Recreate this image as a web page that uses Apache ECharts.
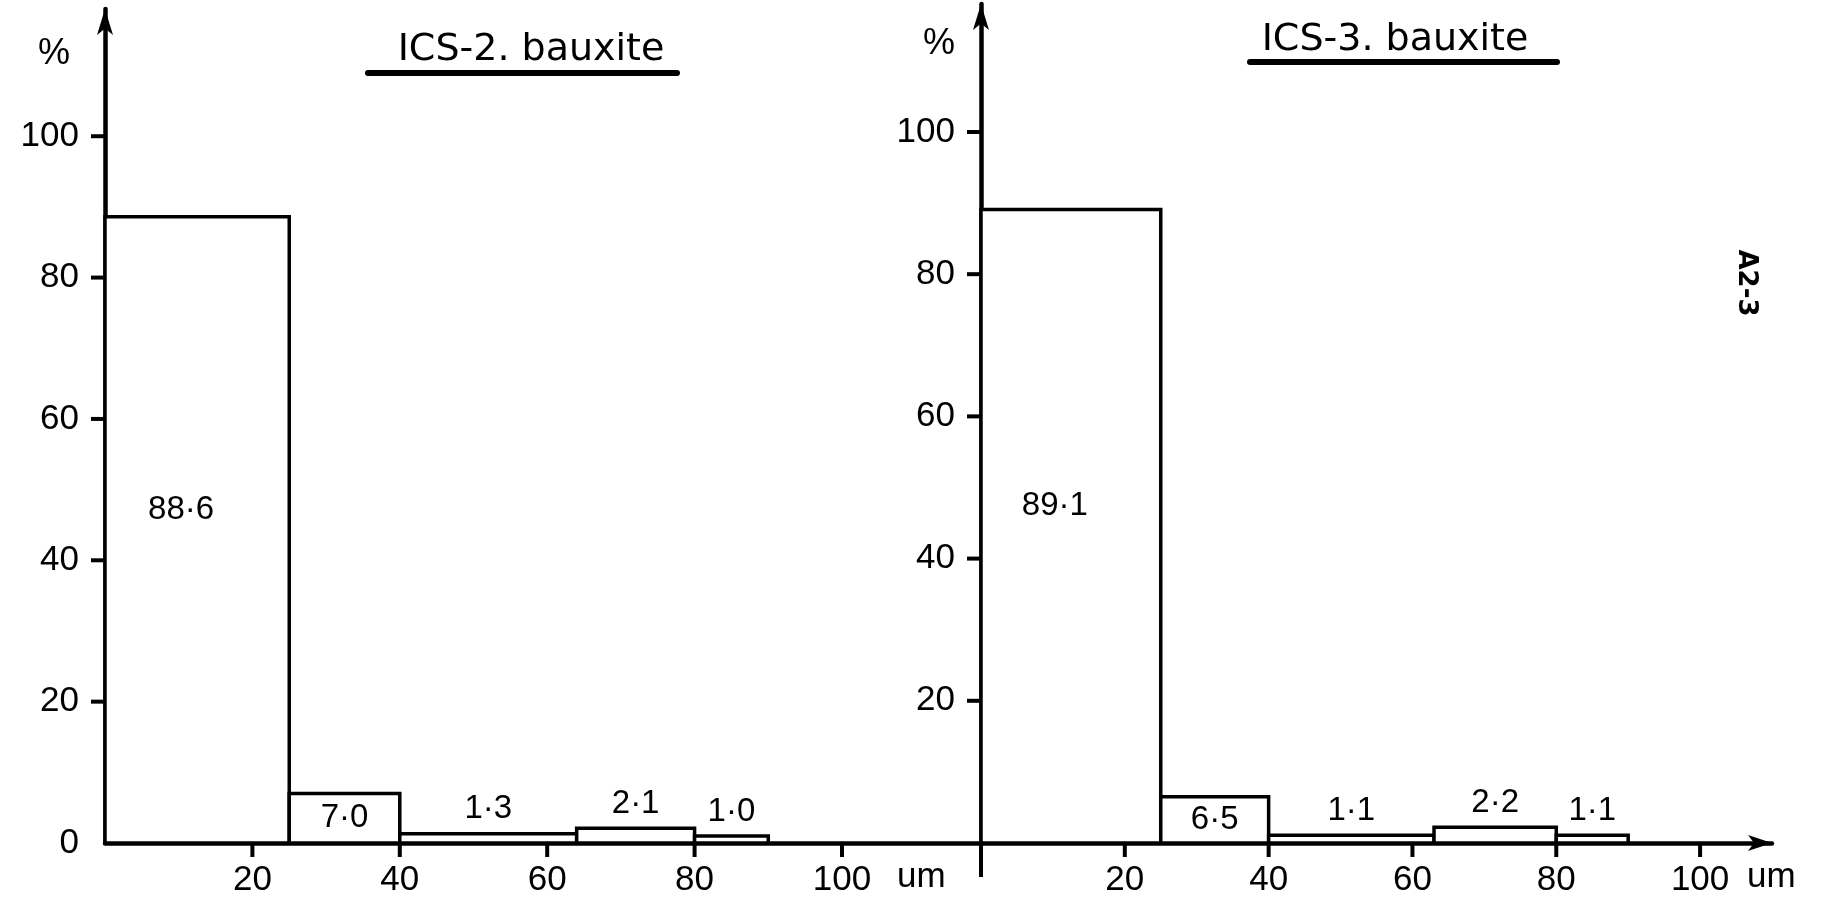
<!DOCTYPE html>
<html><head><meta charset="utf-8">
<script src="https://cdn.jsdelivr.net/npm/echarts@6/dist/echarts.min.js"></script>
<style>html,body{margin:0;padding:0;background:#fff}#c{width:1827px;height:911px}</style>
</head><body><div id="c"></div>
<script>
// ---- data ----
const ics2Edges = [0, 25, 40, 64, 80, 90];
const ics2Values = [88.6, 7.0, 1.3, 2.1, 1.0];
const ics3Edges = [0, 25, 40, 63, 80, 90];
const ics3Values = [89.1, 6.5, 1.1, 2.2, 1.1];
const xTickValues = [20, 40, 60, 80, 100];
const yTickLabelsLeft = [0, 20, 40, 60, 80, 100];
const yTickLabelsRight = [20, 40, 60, 80, 100];
const yTickMarks = [20, 40, 60, 80, 100];
const titles = ['ICS-2. bauxite', 'ICS-3. bauxite'];
const xUnit = 'um';
const yUnit = '%';
const sideNote = 'A2-3';

function toData(edges, values) { return values.map((v, i) => [edges[i], edges[i + 1], v]); }
function fmt(v) { return v.toFixed(1).replace('.', '·'); }

function renderBar(params, api) {
  const x0 = api.value(0), x1 = api.value(1), v = api.value(2);
  const p0 = api.coord([x0, 0]);
  const p1 = api.coord([x1, v]);
  const rect = { x: p0[0], y: p1[1], width: p1[0] - p0[0], height: p0[1] - p1[1] };
  const inside = rect.height > 30;
  const big = rect.height > 200;
  return {
    type: 'group',
    children: [
      { type: 'rect', shape: rect, style: { fill: '#fff', stroke: '#000', lineWidth: 3.5 } },
      { type: 'text', style: {
          text: fmt(v),
          x: rect.x + rect.width / 2 - (big ? 16 : 0),
          y: inside ? rect.y + rect.height / 2 - (big ? 20 : 0) : rect.y - 8,
          align: 'center', verticalAlign: inside ? 'middle' : 'bottom',
          font: '33px "Liberation Sans"', fill: '#000' } }
    ]
  };
}
// the right panel's y-axis runs on a little below its origin
function renderAxisTail(params, api) {
  const o = api.coord([api.value(0), api.value(1)]);
  return { type: 'line', shape: { x1: o[0], y1: o[1], x2: o[0], y2: o[1] + 34 },
    style: { stroke: '#000', lineWidth: 4 } };
}
// tick marks, placed through the axes' own scales
function renderXTick(params, api) {
  const p = api.coord([api.value(0), api.value(1)]);
  return { type: 'line', shape: { x1: p[0], y1: p[1], x2: p[0], y2: p[1] + 14 },
    style: { stroke: '#000', lineWidth: 4 } };
}
function renderYTick(params, api) {
  const p = api.coord([api.value(0), api.value(1)]);
  return { type: 'line', shape: { x1: p[0] - 14, y1: p[1], x2: p[0], y2: p[1] },
    style: { stroke: '#000', lineWidth: 4 } };
}
function tickSeries(gridIndex) {
  return [
    { type: 'custom', xAxisIndex: gridIndex, yAxisIndex: gridIndex, renderItem: renderXTick,
      clip: false, silent: true, z: 3, data: xTickValues.map(v => [v, 0]) },
    { type: 'custom', xAxisIndex: gridIndex, yAxisIndex: gridIndex, renderItem: renderYTick,
      clip: false, silent: true, z: 3, data: yTickMarks.map(v => [0, v]) }
  ];
}

const lineStyle = { color: '#000', width: 4.5 };
const labelStyle = { color: '#000', fontFamily: 'Liberation Sans', fontSize: 35 };

function xAxisCfg(gridIndex, max, arrow, nameGap) {
  return {
    gridIndex, type: 'value', min: 0, max,
    axisLine: { show: true, onZero: true, lineStyle,
      symbol: arrow ? ['none', 'arrow'] : ['none', 'none'], symbolSize: [12, 24] },
    axisTick: { show: false },
    axisLabel: { show: true, customValues: xTickValues, margin: 20, ...labelStyle },
    splitLine: { show: false },
    name: xUnit, nameLocation: 'end', nameGap,
    nameTextStyle: { ...labelStyle, verticalAlign: 'top', lineHeight: 68 }
  };
}
function yAxisCfg(gridIndex, max, labels, nameGap, padRight) {
  return {
    gridIndex, type: 'value', min: 0, max,
    axisLine: { show: true, onZero: true, lineStyle, symbol: ['none', 'arrow'], symbolSize: [12, 26] },
    axisTick: { show: false },
    axisLabel: { show: true, customValues: labels, margin: 26, ...labelStyle },
    splitLine: { show: false },
    name: yUnit, nameLocation: 'end', nameGap,
    nameTextStyle: { color: '#000', fontFamily: 'Liberation Sans', fontSize: 36,
      align: 'right', verticalAlign: 'bottom', padding: [0, padRight, 0, 0] }
  };
}

const chart = echarts.init(document.getElementById('c'), null, { renderer: 'canvas' });
chart.setOption({
  animation: false,
  backgroundColor: '#fff',
  grid: [
    { left: 105, top: 9, width: 877, height: 837 },
    { left: 981, top: 4, width: 791, height: 840 }
  ],
  xAxis: [
    xAxisCfg(0, 119, false, -85),
    xAxisCfg(1, 110, true, -25)
  ],
  yAxis: [
    yAxisCfg(0, 118, yTickLabelsLeft, -63, 35),
    yAxisCfg(1, 118, yTickLabelsRight, -58, 26)
  ],
  series: [
    { type: 'custom', xAxisIndex: 0, yAxisIndex: 0, renderItem: renderBar,
      encode: { x: [0, 1], y: 2 }, data: toData(ics2Edges, ics2Values) },
    { type: 'custom', xAxisIndex: 1, yAxisIndex: 1, renderItem: renderBar,
      encode: { x: [0, 1], y: 2 }, data: toData(ics3Edges, ics3Values) },
    { type: 'custom', xAxisIndex: 1, yAxisIndex: 1, renderItem: renderAxisTail, clip: false,
      silent: true, data: [[0, 0]] }
  ].concat(tickSeries(0), tickSeries(1)),
  graphic: [
    { type: 'text', x: 531, y: 50, style: { text: titles[0], align: 'center', verticalAlign: 'middle',
        font: '38px "DejaVu Sans"', fill: '#000' } },
    { type: 'line', shape: { x1: 368, y1: 73, x2: 677, y2: 73 },
      style: { stroke: '#000', lineWidth: 6, lineCap: 'round' } },
    { type: 'text', x: 1395, y: 40, style: { text: titles[1], align: 'center', verticalAlign: 'middle',
        font: '38px "DejaVu Sans"', fill: '#000' } },
    { type: 'line', shape: { x1: 1250, y1: 62, x2: 1557, y2: 62 },
      style: { stroke: '#000', lineWidth: 6, lineCap: 'round' } },
    { type: 'text', x: 1746, y: 283, rotation: -Math.PI / 2,
      style: { text: sideNote, align: 'center', verticalAlign: 'middle',
        font: 'bold 26px "DejaVu Sans"', fill: '#000' } }
  ]
});
</script>
</body></html>
